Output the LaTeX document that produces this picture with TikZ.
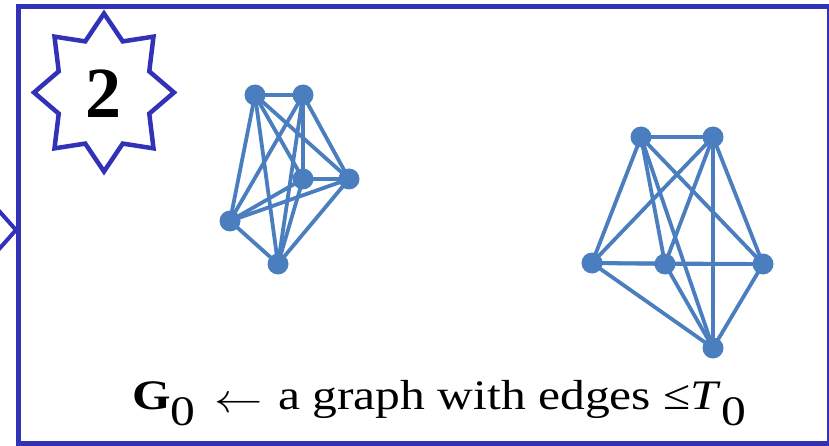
\documentclass[tikz,border=0pt]{standalone}
\usepackage{fontspec}
\setmainfont{Liberation Serif}
\usetikzlibrary{backgrounds}
\definecolor{framecol}{RGB}{50,50,185}
\definecolor{graphcol}{RGB}{74,126,190}
\newcommand{\bigleftarrow}{\raisebox{-3pt}{\scalebox{4.1}{\normalsize$\leftarrow$}}}
\begin{document}
\begin{tikzpicture}[x=1pt,y=-1pt,
  frame/.style={draw=framecol,line width=5pt},
  starline/.style={draw=framecol,line width=4.5pt,line join=miter},
  chev/.style={draw=framecol,line width=4pt,line join=miter},
  vtx/.style={circle,fill=graphcol,minimum size=21pt,inner sep=0pt},
  edge/.style={draw=graphcol,line width=3.8pt},
  badgetext/.style={inner sep=0pt,font=\fontsize{72}{72}\selectfont\bfseries},
  captext/.style={inner sep=0pt,anchor=base west,font=\fontsize{42}{42}\selectfont}]
\useasboundingbox (0,0) rectangle (829,446);
\clip (0,0) rectangle (829,446);
% frame
\draw[frame] (18.5,6.5) rectangle (829.5,443.5);
% chevron at left
\coordinate (ch1) at (-4,207.5);
\coordinate (ch2) at (16,230);
\coordinate (ch3) at (-4,252.5);
\draw[chev] (ch1) -- (ch2) -- (ch3);
% star badge
\coordinate (sc) at (104,92.5);
\draw[starline] (sc)
  +(90:70 and 79) -- +(112.5:49 and 55.3) -- +(135:70 and 79) -- +(157.5:49 and 55.3)
  -- +(180:70 and 79) -- +(202.5:49 and 55.3) -- +(225:70 and 79) -- +(247.5:49 and 55.3)
  -- +(270:70 and 79) -- +(292.5:49 and 55.3) -- +(315:70 and 79) -- +(337.5:49 and 55.3)
  -- +(0:70 and 79) -- +(22.5:49 and 55.3) -- +(45:70 and 79) -- +(67.5:49 and 55.3) -- cycle;
\node[badgetext] (badge) at (103,94) {2};
% graph 1
\node[vtx] (a) at (255,95) {};
\node[vtx] (b) at (303,95) {};
\node[vtx] (c) at (303,179) {};
\node[vtx] (d) at (349,179) {};
\node[vtx] (e) at (230,221) {};
\node[vtx] (f) at (278,264) {};
% graph 2
\node[vtx] (p) at (641,137) {};
\node[vtx] (q) at (713,137) {};
\node[vtx] (r) at (592,263) {};
\node[vtx] (s) at (665,264) {};
\node[vtx] (t) at (763,264) {};
\node[vtx] (u) at (713,348) {};
\begin{pgfonlayer}{background}
\foreach \u/\v in {a/b,a/c,a/d,a/e,a/f,b/c,b/d,b/e,b/f,c/d,c/e,c/f,d/e,d/f,e/f}
  \draw[edge] (\u.center) -- (\v.center);
\foreach \u/\v in {p/q,p/r,p/s,p/t,p/u,q/r,q/s,q/t,q/u,r/s,r/t,r/u,s/t,s/u,t/u}
  \draw[edge] (\u.center) -- (\v.center);
\end{pgfonlayer}
% caption
\node[captext] (cap) at (132,409) {\scalebox{1.18}[1]{\textbf{G}\raisebox{-16pt}{0}\hspace{16pt}\bigleftarrow\hspace{13pt}a graph with edges ≤\textit{T}\raisebox{-16pt}{0}}};
\end{tikzpicture}
\end{document}
